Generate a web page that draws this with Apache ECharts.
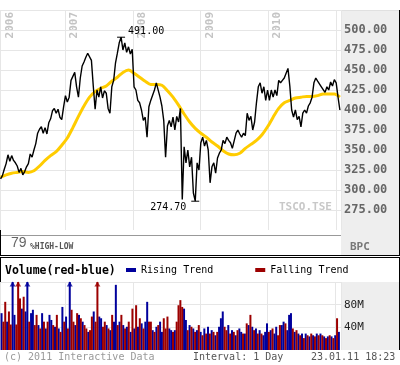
<!DOCTYPE html>
<html><head><meta charset="utf-8">
<script src="https://cdn.jsdelivr.net/npm/echarts@6/dist/echarts.min.js"></script>
<style>html,body{margin:0;padding:0;background:#fff}#c{width:400px;height:365px}</style>
</head><body><div id="c"></div>
<script>
// ---- data ----
const yearLabels = ['2006','2007','2008','2009','2010'];
const yearLabelDates = ['2006-01-18','2007-01-01','2008-01-01','2009-01-01','2010-01-01'];
// closing prices, one sample every 10 days from 18 Jan 2006
const price = [314,318,326,333,344,336,343,337,334,330,
 322,327,319,323,329,333,345,341,350,358,
 371,376,379,371,378,370,384,389,399,402,
 396,401,391,388,404,418,410,416,437,442,
 447,429,416,440,455,460,466,471,472,462,
 430,401,425,416,429,415,424,421,402,396,
 429,437,459,471,484,491,475,484,472,479,
 470,476,429,425,412,409,400,387,391,366,
 404,412,410,425,434,435,416,405,387,341,
 380,387,379,391,375,392,385,402,288,354,
 334,350,329,341,296,286,334,325,359,366,
 355,362,350,309,329,334,321,340,346,350,
 362,358,366,362,359,352,350,371,375,370,
 366,371,368,396,387,392,375,385,409,429,
 434,421,429,412,425,412,425,416,425,418,
 437,434,437,440,446,452,430,400,391,400,
 388,392,379,396,400,396,405,409,416,434,
 440,436,434,429,431,422,429,425,435,430,
 438,434,416,400];
// moving average, one sample every 30 days from 18 Jan 2006
const movingAvg = [316,319,321,322,323,322,324,330,337,343,
 348,356,365,378,392,405,416,423,427,430,
 436,441,447,450,446,441,436,432,432,431,
 424,416,406,395,385,377,371,366,360,355,
 349,345,344,346,352,357,362,369,379,391,
 402,409,412,415,416,417,417,418,420,420,
 420,416];
// volume in millions, same dates as price
const volume = [65,50,85,50,68,45,130,62,45,130,
 91,73,94,68,130,50,65,71,44,62,
 44,38,65,50,38,50,62,53,44,41,
 62,38,32,76,50,59,38,130,71,50,
 44,65,62,56,50,44,38,32,35,59,
 68,50,130,59,56,41,50,44,38,35,
 62,50,115,44,50,62,44,38,41,50,
 32,73,38,79,41,56,47,38,50,85,
 50,50,35,32,41,44,50,32,56,38,
 59,38,35,32,35,50,79,88,76,73,
 53,35,44,41,38,32,35,44,32,26,
 38,29,41,29,35,32,26,32,41,56,
 68,41,35,44,29,35,32,26,35,38,
 32,29,29,47,44,62,41,35,38,29,
 35,29,26,32,47,32,35,38,29,41,
 26,44,44,50,47,35,62,65,38,32,
 35,29,26,29,21,29,26,24,29,26,
 24,29,26,29,26,24,21,24,26,24,
 21,26,56,32];
// trend per volume bar: b = rising (blue), r = falling (red)
const trend = ['b','r','r','b','r','r','b','b','r','r',
 'r','b','r','b','b','r','b','b','r','r',
 'b','r','b','r','b','r','b','b','r','b',
 'r','b','r','b','r','b','r','b','r','r',
 'b','r','b','r','b','r','r','b','r','r',
 'b','r','r','b','b','r','r','b','r','b',
 'r','b','b','r','b','r','b','r','b','r',
 'b','r','b','r','b','r','b','r','b','b',
 'r','r','b','r','b','r','b','b','r','r',
 'r','b','b','r','b','r','r','r','r','b',
 'b','r','b','r','b','r','b','r','b','r',
 'b','r','b','r','b','r','b','r','b','b',
 'b','r','r','b','r','b','r','b','r','b',
 'b','r','b','r','b','r','b','r','b','r',
 'b','r','b','b','b','r','b','r','b','b',
 'r','r','b','b','r','b','b','b','r','b',
 'r','b','r','b','r','b','r','b','r','b',
 'r','b','r','b','r','b','r','b','r','b',
 'r','b','r','b'];
const extremeLabels = {max: '491.00', min: '274.70'};
const volMax = 120;

// ---- build ----
const RED = '#9c0000', BLUE = '#00009c';
const MONO = 'DejaVu Sans Mono';
const priceDates = price.map((_, i) => new Date(2006, 0, 18 + 10 * i));
const maDates = movingAvg.map((_, j) => new Date(2006, 0, 18 + 30 * j));
const xMin = new Date(2006, 0, 15), xMax = new Date(2011, 0, 28);
const DAY = 86400000;

const chart = echarts.init(document.getElementById('c'), null, {renderer: 'canvas'});
const gridLine = {show: true, lineStyle: {color: '#e6e6e6', width: 1}};

const staticGraphics = [
  {type: 'rect', z: -10, shape: {x: 341, y: 10, width: 59, height: 245}, style: {fill: '#eeeeee'}},
  {type: 'rect', z: -10, shape: {x: 341, y: 282, width: 59, height: 68}, style: {fill: '#eeeeee'}},
  {type: 'line', shape: {x1: 0, y1: 10.5, x2: 400, y2: 10.5}, style: {stroke: '#e0e0e0', lineWidth: 1}},
  {type: 'line', shape: {x1: 0, y1: 235.5, x2: 341, y2: 235.5}, style: {stroke: '#999', lineWidth: 1}},
  {type: 'line', shape: {x1: 0.5, y1: 10, x2: 0.5, y2: 256}, style: {stroke: '#000', lineWidth: 1}},
  {type: 'line', shape: {x1: 399.5, y1: 10, x2: 399.5, y2: 256}, style: {stroke: '#000', lineWidth: 1}},
  {type: 'line', shape: {x1: 0, y1: 255.5, x2: 400, y2: 255.5}, style: {stroke: '#000', lineWidth: 1}},
  {type: 'line', shape: {x1: 0, y1: 257.5, x2: 400, y2: 257.5}, style: {stroke: '#000', lineWidth: 1}},
  {type: 'line', shape: {x1: 0.5, y1: 257, x2: 0.5, y2: 350}, style: {stroke: '#000', lineWidth: 1}},
  {type: 'line', shape: {x1: 399.5, y1: 257, x2: 399.5, y2: 350}, style: {stroke: '#000', lineWidth: 1}},
  {type: 'text', x: 279, y: 207, style: {text: 'TSCO.TSE', font: 'bold 11px "DejaVu Sans Mono"', fill: '#c8c8c8', verticalAlign: 'middle'}},
  {type: 'text', x: 11, y: 243.5, style: {text: '79', font: '14px "Liberation Sans"', fill: '#666', verticalAlign: 'middle'}},
  {type: 'text', x: 30, y: 246.5, style: {text: '%HIGH-LOW', font: 'bold 8px "DejaVu Sans Mono"', fill: '#555', verticalAlign: 'middle'}},
  {type: 'text', x: 350, y: 247, style: {text: 'BPC', font: 'bold 11px "DejaVu Sans Mono"', fill: '#777', verticalAlign: 'middle'}},
  {type: 'text', x: 5, y: 271.5, style: {text: 'Volume(red-blue)', font: 'bold 11.5px "DejaVu Sans Mono"', fill: '#000', verticalAlign: 'middle'}},
  {type: 'text', x: 4, y: 357.5, style: {text: '(c) 2011 Interactive Data', font: '10px "DejaVu Sans Mono"', fill: '#9a9a9a', verticalAlign: 'middle'}},
  {type: 'text', x: 193, y: 357.5, style: {text: 'Interval: 1 Day', font: '10px "DejaVu Sans Mono"', fill: '#555', verticalAlign: 'middle'}},
  {type: 'text', x: 311, y: 357.5, style: {text: '23.01.11 18:23', font: '10px "DejaVu Sans Mono"', fill: '#555', verticalAlign: 'middle'}}
];

chart.setOption({
  animation: false,
  grid: [
    {left: 0, right: 59, top: 10, height: 220, containLabel: false, outerBoundsMode: 'none'},
    {left: 0, right: 59, top: 282, height: 68, containLabel: false, outerBoundsMode: 'none'}
  ],
  xAxis: [
    {type: 'time', gridIndex: 0, min: xMin, max: xMax, position: 'top',
     splitNumber: 5, minInterval: 365 * DAY,
     axisLine: {show: false}, axisTick: {show: false}, axisLabel: {show: false}, splitLine: gridLine},
    {type: 'time', gridIndex: 1, min: xMin, max: xMax,
     splitNumber: 5, minInterval: 365 * DAY,
     axisLine: {show: false}, axisTick: {show: false}, axisLabel: {show: false}, splitLine: gridLine}
  ],
  yAxis: [
    {type: 'value', gridIndex: 0, position: 'right', min: 250, max: 525, interval: 25,
     axisLine: {show: false}, axisTick: {show: false},
     splitLine: {show: true, showMinLine: false, lineStyle: {color: '#e6e6e6'}},
     axisLabel: {margin: 3, color: '#666', fontFamily: MONO, fontSize: 12, fontWeight: 'bold',
       showMinLabel: false, showMaxLabel: false, formatter: v => v.toFixed(2)}},
    {type: 'value', gridIndex: 1, position: 'right', min: 0, max: volMax, interval: 40,
     axisLine: {show: false}, axisTick: {show: false},
     splitLine: {show: true, showMinLine: false, lineStyle: {color: '#e6e6e6'}},
     axisLabel: {margin: 3, color: '#222', fontFamily: MONO, fontSize: 11,
       showMinLabel: false, showMaxLabel: false, formatter: v => v + 'M'}}
  ],
  legend: {
    data: ['Rising Trend', 'Falling Trend'], left: 126, top: 265, icon: 'rect',
    itemWidth: 10, itemHeight: 4, itemGap: 42, selectedMode: false, padding: 0,
    textStyle: {fontFamily: MONO, fontSize: 10, color: '#000'}
  },
  series: [
    {type: 'line', name: 'MA', xAxisIndex: 0, yAxisIndex: 0, symbol: 'none', smooth: 0.3,
     data: maDates.map((d, j) => [d, movingAvg[j]]),
     lineStyle: {color: '#ffcc00', width: 3}, z: 2, silent: true},
    {type: 'line', name: 'Price', xAxisIndex: 0, yAxisIndex: 0, symbol: 'none',
     data: priceDates.map((d, i) => [d, price[i]]),
     lineStyle: {color: '#000', width: 1.4}, z: 3, silent: true,
     markPoint: {symbol: 'rect', symbolSize: [8, 1], itemStyle: {color: '#000'}, silent: true,
       label: {color: '#000', fontFamily: MONO, fontSize: 10},
       data: [
         {type: 'max', label: {position: 'right', distance: 3, offset: [0, -6], formatter: extremeLabels.max}},
         {type: 'min', label: {position: 'left', distance: 5, offset: [0, 6], formatter: extremeLabels.min}}
       ]}},
    {type: 'bar', name: 'Rising Trend', xAxisIndex: 1, yAxisIndex: 1, barWidth: 2, barGap: '-100%',
     data: priceDates.map((d, i) => [d, trend[i] === 'b' ? volume[i] : null]),
     itemStyle: {color: BLUE}, silent: true},
    {type: 'bar', name: 'Falling Trend', xAxisIndex: 1, yAxisIndex: 1, barWidth: 2, barGap: '-100%',
     data: priceDates.map((d, i) => [d, trend[i] === 'r' ? volume[i] : null]),
     itemStyle: {color: RED}, silent: true},
    {type: 'scatter', xAxisIndex: 1, yAxisIndex: 1, symbol: 'triangle', symbolSize: [6, 5], symbolOffset: [0, 2],
     silent: true, z: 5,
     data: volume.map((v, i) => v > volMax ? {value: [priceDates[i], volMax], itemStyle: {color: trend[i] === 'b' ? BLUE : RED}} : null).filter(Boolean)}
  ],
  graphic: staticGraphics
});

// year labels placed through the time axis scale
const yearGraphics = yearLabelDates.map((d, k) => {
  const px = chart.convertToPixel({xAxisIndex: 0}, new Date(d + 'T00:00:00').getTime());
  return {type: 'text', x: Math.round(px) + 4, y: 12, rotation: Math.PI / 2,
    style: {text: yearLabels[k], x: 0, y: 0, align: 'right', verticalAlign: 'top',
      font: 'bold 11px "DejaVu Sans Mono"', fill: '#c4c4c4'}};
});
chart.setOption({graphic: staticGraphics.concat(yearGraphics)});
</script></body></html>
